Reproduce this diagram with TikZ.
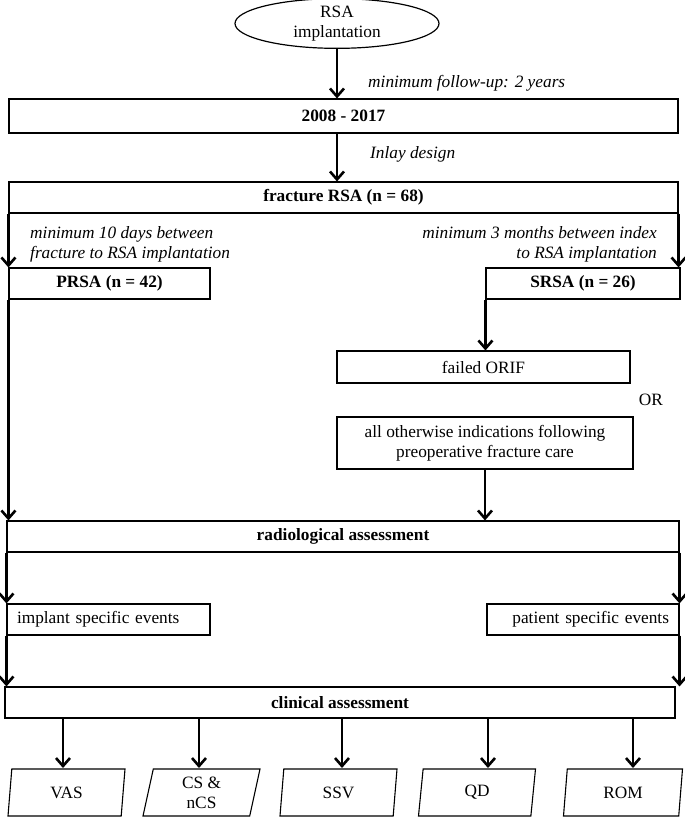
\documentclass[tikz,border=0pt]{standalone}
\usepackage{fontspec}
\setmainfont{Liberation Serif}
\usetikzlibrary{arrows.meta,shapes.geometric}
\begin{document}
\begin{tikzpicture}[x=1pt,y=-1pt,
  every node/.style={font=\fontsize{17.3}{20}\selectfont, inner sep=0pt},
  box/.style={draw, line width=1.1pt, rectangle},
  bold/.style={font=\fontsize{17.3}{20}\selectfont\bfseries},
  lbl/.style={font=\fontsize{17.3}{20}\selectfont\itshape},
  arr/.style={line width=2.6pt, -{Straight Barb[length=8pt,width=14pt,line width=2.6pt]}},
  para/.style={draw, line width=1.1pt, trapezium, trapezium left angle=72, trapezium right angle=108,
    trapezium stretches body=true, minimum height=47pt, minimum width=117pt, align=center}
]
\useasboundingbox (0,0) rectangle (685,817);

% nodes
\node[box, ellipse, line width=1.2pt, minimum width=204pt, minimum height=43pt, align=center] (ell) at (337,23.5) {RSA\\implantation};
\node[box, bold, minimum width=669pt, minimum height=34pt] (b2008) at (343.5,116) {2008 - 2017};
\node[box, bold, minimum width=669pt, minimum height=31pt] (frac) at (343.5,197.5) {fracture RSA (n = 68)};
\node[box, bold, minimum width=201pt, minimum height=31pt] (prsa) at (109.5,283.5) {PRSA (n = 42)};
\node[box, bold, minimum width=194pt, minimum height=31pt] (srsa) at (583,283.5) {SRSA (n = 26)};
\node[box, minimum width=293pt, minimum height=32pt] (orif) at (483.5,367) {failed ORIF};
\node (or) at (651,400) {OR};
\node[box, minimum width=296pt, minimum height=52pt, align=center] (other) at (485,443) {all otherwise indications following\\preoperative fracture care};
\node[box, bold, minimum width=672pt, minimum height=31pt] (radio) at (343,536.5) {radiological assessment};
\node[box, minimum height=31pt, inner xsep=10pt, text width=183pt, align=left] (impl) at (108.5,619.5) {implant specific events};
\node[box, minimum height=31pt, inner xsep=10pt, text width=172pt, align=right] (pat) at (583,619.5) {patient specific events};
\node[box, bold, minimum width=670pt, minimum height=31pt] (clin) at (340,702.5) {clinical assessment};

\node[para] (vas) at (66.5,792.5) {VAS};
\node[para] (cs) at (201.5,792.5) {CS \&\\nCS};
\node[para] (ssv) at (338.5,792.5) {SSV};
\node[para] (qd) at (477,792.5) {QD};
\node[para, minimum width=119pt] (rom) at (623,792.5) {ROM};

% labels
\node[lbl, anchor=west] (l1) at (368,83) {minimum follow-up: 2 years};
\node[lbl, anchor=west] (l2) at (370,154) {Inlay design};
\node[lbl, anchor=west, align=left] (l3) at (30,244) {minimum 10 days between\\fracture to RSA implantation};
\node[lbl, anchor=east, align=right] (l4) at (657,244) {minimum 3 months between index\\to RSA implantation};

% arrow end points at the outcome boxes
\coordinate (a1) at (63,768);
\coordinate (a2) at (199,768);
\coordinate (a3) at (342,768);
\coordinate (a4) at (488,768);
\coordinate (a5) at (633,768);

% connectors
\draw[arr] (ell.south) -- (ell.south |- b2008.north);
\draw[arr] (b2008.south -| ell.south) -- (frac.north -| ell.south);
\draw[arr] (frac.south west) -- (prsa.north west);
\draw[arr] (frac.south east) -- (frac.south east |- srsa.north);
\draw[arr] (srsa.south west) -- (srsa.south west |- orif.north);
\draw[arr] (other.south) -- (other.south |- radio.north);
\draw[arr] (prsa.south west) -- (prsa.south west |- radio.north);
\draw[arr] (radio.south west) -- (impl.north west);
\draw[arr] (radio.south east) -- (pat.north east);
\draw[arr] (impl.south west) -- (impl.south west |- clin.north);
\draw[arr] (pat.south east) -- (pat.south east |- clin.north);
\draw[arr] (clin.south -| a1) -- (a1);
\draw[arr] (clin.south -| a2) -- (a2);
\draw[arr] (clin.south -| a3) -- (a3);
\draw[arr] (clin.south -| a4) -- (a4);
\draw[arr] (clin.south -| a5) -- (a5);
\end{tikzpicture}
\end{document}
